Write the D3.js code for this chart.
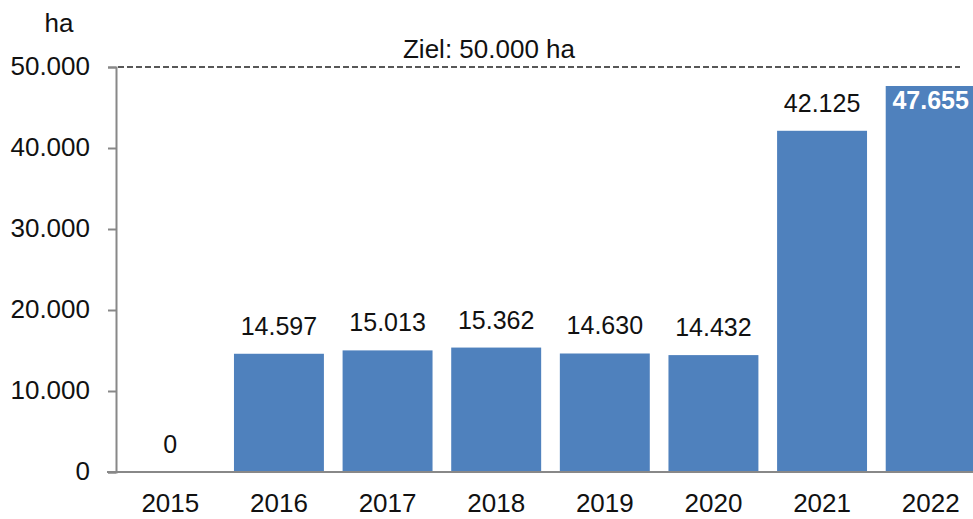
<!DOCTYPE html>
<html>
<head>
<meta charset="utf-8">
<script src="https://cdn.jsdelivr.net/npm/d3@7"></script>
<style>
  body { margin: 0; background: #fff; }
  svg { display: block; font-family: "Liberation Sans", Arial, sans-serif; }
</style>
</head>
<body>
<svg id="chart" width="973" height="519"></svg>
<script>
// Flächen in ha je Jahr
const years = ["2015", "2016", "2017", "2018", "2019", "2020", "2021", "2022"];
const values = [0, 14597, 15013, 15362, 14630, 14432, 42125, 47655];
const yTicks = [0, 10000, 20000, 30000, 40000, 50000];
const target = 50000;
const unitLabel = "ha";
const targetLabel = "Ziel: 50.000 ha";

const svg = d3.select("#chart");
const plotLeft = 116, plotRight = 985, plotTop = 67, plotBottom = 472;

const x = d3.scaleBand()
    .domain(years)
    .range([plotLeft, plotRight])
    .paddingInner(0.172)
    .paddingOuter(0.086);

const y = d3.scaleLinear()
    .domain([0, 50000])
    .range([plotBottom, plotTop]);

const fmt = d3.formatLocale({decimal: ",", thousands: ".", grouping: [3], currency: ["", "€"]}).format(",d");

// bars
svg.selectAll(".bar")
    .data(values)
    .enter().append("rect")
    .attr("class", "bar")
    .attr("x", (d, i) => x(years[i]))
    .attr("y", d => y(d))
    .attr("width", x.bandwidth())
    .attr("height", d => plotBottom - y(d))
    .style("fill", "#4F81BD");

// y axis
const yAxis = svg.append("g")
    .attr("transform", "translate(" + plotLeft + ",0)")
    .call(d3.axisLeft(y).tickValues(yTicks).tickSize(8).tickPadding(18).tickFormat(fmt));
yAxis.select(".domain").attr("stroke", "#888").attr("stroke-width", 2);
yAxis.selectAll(".tick line").attr("stroke", "#888").attr("stroke-width", 2);
yAxis.selectAll(".tick text")
    .style("font-size", "26px")
    .style("fill", "#111")
    .attr("dy", "0.29em");

// x axis baseline
const xAxis = svg.append("g")
    .attr("transform", "translate(0," + plotBottom + ")")
    .call(d3.axisBottom(x).tickSize(0).tickPadding(22));
xAxis.select(".domain").remove();
xAxis.append("line")
    .attr("x1", plotLeft - 9).attr("x2", 973)
    .attr("stroke", "#888").attr("stroke-width", 2);
xAxis.selectAll(".tick text")
    .style("font-size", "26px")
    .style("fill", "#111");

// target line
svg.append("line")
    .attr("x1", plotLeft + 2).attr("x2", 960)
    .attr("y1", y(target)).attr("y2", y(target))
    .attr("stroke", "#222")
    .attr("stroke-width", 1.6)
    .attr("stroke-dasharray", "6,3");

svg.append("text")
    .text(targetLabel)
    .attr("x", 489)
    .attr("y", y(target) - 9)
    .attr("text-anchor", "middle")
    .style("font-size", "26px")
    .style("fill", "#111");

svg.append("text")
    .text(unitLabel)
    .attr("x", 59)
    .attr("y", 32)
    .attr("text-anchor", "middle")
    .style("font-size", "26px")
    .style("fill", "#111");

// value labels
const last = values.length - 1;
svg.selectAll(".vlabel")
    .data(values)
    .enter().append("text")
    .attr("class", "vlabel")
    .text(d => fmt(d))
    .attr("x", (d, i) => x(years[i]) + x.bandwidth() / 2)
    .attr("y", (d, i) => i === last ? y(d) + 23 : y(d) - 19)
    .attr("text-anchor", "middle")
    .style("font-size", "25px")
    .style("font-weight", (d, i) => i === last ? "bold" : "normal")
    .style("fill", (d, i) => i === last ? "#fff" : "#111");
</script>
</body>
</html>
